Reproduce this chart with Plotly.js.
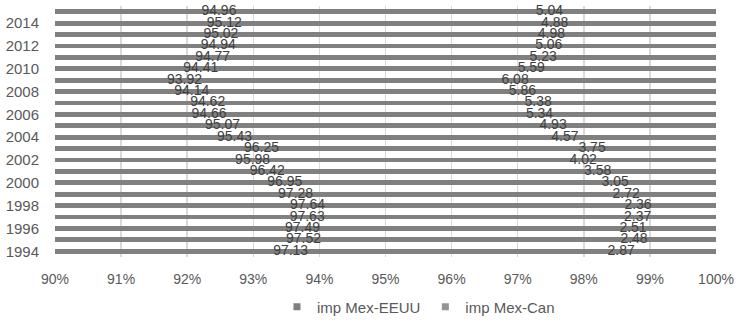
<!DOCTYPE html>
<html>
<head>
<meta charset="utf-8">
<script src="https://cdn.plot.ly/plotly-3.0.1.min.js"></script>
<style>html,body{margin:0;padding:0;background:#fff;}#chart{width:744px;height:322px;}</style>
</head>
<body>
<div id="chart"></div>
<script>
const years = [1994,1995,1996,1997,1998,1999,2000,2001,2002,2003,2004,2005,2006,2007,2008,2009,2010,2011,2012,2013,2014,2015];
const impMexEEUU = [97.13,97.52,97.49,97.63,97.64,97.28,96.95,96.42,95.98,96.25,95.43,95.07,94.66,94.62,94.14,93.92,94.41,94.77,94.94,95.02,95.12,94.96];
const impMexCan = [2.87,2.48,2.51,2.37,2.36,2.72,3.05,3.58,4.02,3.75,4.57,4.93,5.34,5.38,5.86,6.08,5.59,5.23,5.06,4.98,4.88,5.04];
const seriesNames = ["imp Mex-EEUU", "imp Mex-Can"];
const xTickVals = [90,91,92,93,94,95,96,97,98,99,100];
const yTickVals = [1994,1996,1998,2000,2002,2004,2006,2008,2010,2012,2014];

const xMin = 90, xMax = 100;
const barColor = "#808080";
const font = "Liberation Sans, Arial, sans-serif";

const labelX1 = impMexEEUU.map(v => (Math.max(xMin, 0) + v) / 2);
const labelX2 = impMexEEUU.map((v, i) => v + impMexCan[i] / 2);

const traces = [
  {type: "bar", orientation: "h", y: years, x: impMexEEUU, name: seriesNames[0],
   marker: {color: barColor}, width: 0.42, showlegend: false, hoverinfo: "skip"},
  {type: "bar", orientation: "h", y: years, x: impMexCan, name: seriesNames[1],
   marker: {color: barColor}, width: 0.42, showlegend: false, hoverinfo: "skip"},
  {type: "scatter", mode: "text", x: labelX1, y: years, text: impMexEEUU.map(v => v.toFixed(2)),
   textposition: "middle center", textfont: {family: font, size: 14, color: "#404040"},
   cliponaxis: false, showlegend: false, hoverinfo: "skip"},
  {type: "scatter", mode: "text", x: labelX2, y: years, text: impMexCan.map(v => v.toFixed(2)),
   textposition: "middle center", textfont: {family: font, size: 14, color: "#404040"},
   cliponaxis: false, showlegend: false, hoverinfo: "skip"},
  {type: "scatter", mode: "markers", x: [null], y: [null], name: seriesNames[0],
   marker: {symbol: "square", size: 7, color: "#7f7f7f"}, showlegend: true, hoverinfo: "skip"},
  {type: "scatter", mode: "markers", x: [null], y: [null], name: seriesNames[1],
   marker: {symbol: "square", size: 7, color: "#959595"}, showlegend: true, hoverinfo: "skip"}
];

const layout = {
  width: 744, height: 322,
  margin: {l: 55, r: 28, t: 6, b: 65, pad: 0},
  paper_bgcolor: "#ffffff", plot_bgcolor: "#ffffff",
  barmode: "stack",
  font: {family: font, size: 14, color: "#595959"},
  xaxis: {range: [xMin, xMax], tickvals: xTickVals, ticktext: xTickVals.map(v => v + "%"),
          showgrid: true, gridcolor: "#d9d9d9", gridwidth: 1.5, zeroline: false, showline: false,
          ticks: "outside", ticklen: 9, tickcolor: "rgba(0,0,0,0)",
          tickfont: {family: font, size: 14, color: "#595959"}, fixedrange: true},
  yaxis: {range: [1993.5, 2015.5], tickvals: yTickVals, showgrid: false, zeroline: false, showline: false,
          ticks: "outside", ticklen: 12, tickcolor: "rgba(0,0,0,0)",
          tickfont: {family: font, size: 15, color: "#595959"}, fixedrange: true},
  legend: {orientation: "h", xref: "container", yref: "container", x: 277/744, xanchor: "left",
           y: 1 - 307/322, yanchor: "middle", font: {family: font, size: 15, color: "#595959"},
           bgcolor: "rgba(0,0,0,0)", itemwidth: 30, traceorder: "normal"},
  showlegend: true
};

Plotly.newPlot("chart", traces, layout, {displayModeBar: false, staticPlot: true});
</script>
</body>
</html>
